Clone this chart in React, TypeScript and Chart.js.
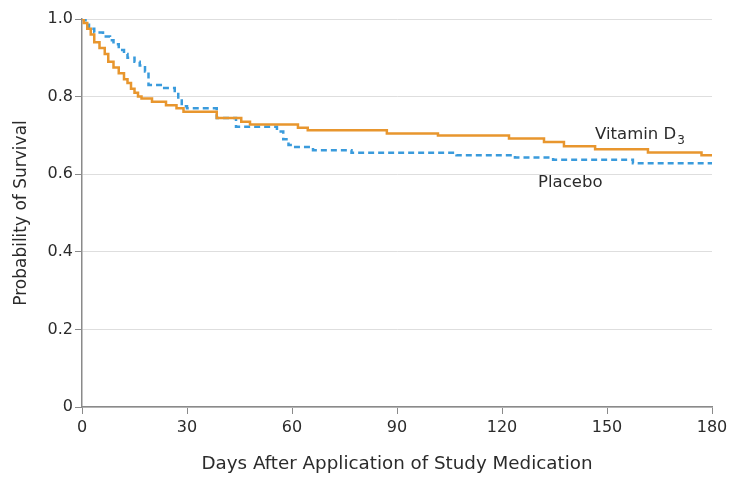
import React, { useEffect, useRef } from "react";
import { Chart, registerables } from "chart.js";

Chart.register(...registerables);

const vitDays = [0, 0.5, 1.5, 2.5, 3.5, 5, 6.5, 7.5, 9, 10.5, 12, 13, 14, 15, 16, 17, 20, 24, 27, 29, 38.5, 45.5, 48, 61.7, 64.5, 87.1, 101.7, 122, 132, 137.7, 146.6, 161.7, 177, 180];
const vitSurv = [1.0, 0.99, 0.975, 0.96, 0.94, 0.925, 0.91, 0.89, 0.875, 0.86, 0.845, 0.835, 0.82, 0.81, 0.8, 0.795, 0.787, 0.778, 0.77, 0.761, 0.745, 0.735, 0.728, 0.72, 0.713, 0.705, 0.7, 0.692, 0.683, 0.672, 0.664, 0.656, 0.649, 0.649];

const placDays = [0, 1, 2, 3.5, 6, 8, 9, 10.5, 12, 13, 15, 16.5, 18, 19, 23, 26.5, 27.5, 28.5, 30, 38.5, 44, 55.7, 57.5, 59, 60.5, 66, 77, 107, 123.7, 134.6, 157.4, 180];
const placSurv = [1.0, 0.985, 0.975, 0.965, 0.955, 0.945, 0.935, 0.92, 0.91, 0.9, 0.89, 0.88, 0.865, 0.83, 0.822, 0.81, 0.79, 0.775, 0.77, 0.745, 0.722, 0.71, 0.69, 0.675, 0.67, 0.662, 0.655, 0.649, 0.643, 0.637, 0.628, 0.628];

const xTicks = [0, 30, 60, 90, 120, 150, 180];
const yTicks = [0, 0.2, 0.4, 0.6, 0.8, 1.0];

const FONT = "'DejaVu Sans', sans-serif";
const TEXT = "#2b2b2b";
const ORANGE = "#E8962E";
const BLUE = "#3A9BDC";

const labelPlugin = {
  id: "seriesLabels",
  afterDatasetsDraw(chart: any) {
    const { ctx, scales } = chart;
    const xs = scales.x;
    const ys = scales.y;
    ctx.save();
    ctx.fillStyle = TEXT;
    ctx.textBaseline = "alphabetic";
    ctx.textAlign = "left";
    ctx.font = `16.5px ${FONT}`;
    const vx = xs.getPixelForValue(146.6);
    const vy = ys.getPixelForValue(0.69);
    const main = "Vitamin D";
    ctx.fillText(main, vx, vy);
    const w = ctx.measureText(main).width;
    ctx.font = `12px ${FONT}`;
    ctx.fillText("3", vx + w + 1, vy + 5);
    ctx.font = `16.5px ${FONT}`;
    ctx.fillText("Placebo", xs.getPixelForValue(130.3), ys.getPixelForValue(0.568));
    ctx.restore();
  },
};

export default function App() {
  const ref = useRef<HTMLCanvasElement | null>(null);
  useEffect(() => {
    document.body.style.margin = "0";
    const canvas = ref.current;
    if (!canvas) return;
    const chart = new Chart(canvas, {
      type: "line",
      data: {
        datasets: [
          {
            label: "Vitamin D3",
            data: vitDays.map((d, i) => ({ x: d, y: vitSurv[i] })),
            borderColor: ORANGE,
            borderWidth: 2.5,
            pointRadius: 0,
            stepped: "before",
            fill: false,
          },
          {
            label: "Placebo",
            data: placDays.map((d, i) => ({ x: d, y: placSurv[i] })),
            borderColor: BLUE,
            borderWidth: 2.5,
            borderDash: [6, 4],
            pointRadius: 0,
            stepped: "before",
            fill: false,
          },
        ],
      },
      options: {
        animation: false,
        responsive: false,
        maintainAspectRatio: false,
        layout: { padding: { left: 0, top: 19, right: 18, bottom: 0 } },
        plugins: { legend: { display: false }, tooltip: { enabled: false } },
        scales: {
          x: {
            type: "linear",
            min: 0,
            max: 180,
            afterBuildTicks: (s: any) => {
              s.ticks = xTicks.map((v) => ({ value: v }));
            },
            afterFit: (s: any) => {
              s.height = 70;
              s.paddingLeft = 0;
              s.paddingRight = 0;
            },
            grid: { display: true, drawOnChartArea: false, drawTicks: true, tickLength: 7, tickColor: "#8a8a8a", color: "#8a8a8a" },
            border: { display: true, color: "#8a8a8a", width: 1.5 },
            ticks: { color: TEXT, font: { family: FONT, size: 16 }, padding: 4, maxRotation: 0 },
            title: { display: true, text: "Days After Application of Study Medication", color: TEXT, font: { family: FONT, size: 18.3 }, padding: { top: 8, bottom: 2 } },
          },
          y: {
            type: "linear",
            min: 0,
            max: 1,
            afterBuildTicks: (s: any) => {
              s.ticks = yTicks.map((v) => ({ value: v }));
            },
            afterFit: (s: any) => {
              s.width = 82;
              s.paddingTop = 0;
              s.paddingBottom = 0;
            },
            grid: { display: true, color: "#dedede", lineWidth: 1, drawTicks: true, tickLength: 7, tickColor: "#8a8a8a" },
            border: { display: true, color: "#8a8a8a", width: 1.5 },
            ticks: {
              color: TEXT,
              font: { family: FONT, size: 16 },
              padding: 2,
              callback: (v: any) => (v === 0 ? "0" : Number(v).toFixed(1)),
            },
            title: { display: true, text: "Probability of Survival", color: TEXT, font: { family: FONT, size: 17 }, padding: { top: 11, bottom: 4 } },
          },
        },
      },
      plugins: [labelPlugin],
    } as any);
    return () => chart.destroy();
  }, []);
  return (
    <div style={{ width: 730, height: 477, background: "#fff" }}>
      <canvas ref={ref} width={730} height={477} style={{ width: 730, height: 477, display: "block" }} />
    </div>
  );
}
